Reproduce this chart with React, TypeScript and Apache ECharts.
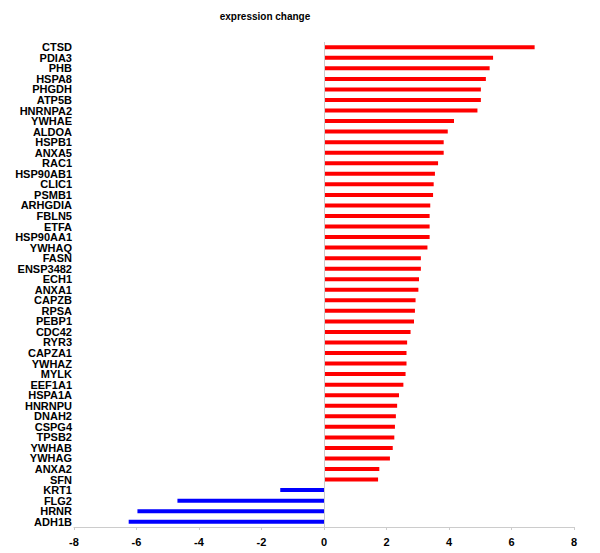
import React, { useEffect, useRef } from "react";
import * as echarts from "echarts";

const genes = [
  "CTSD", "PDIA3", "PHB", "HSPA8", "PHGDH", "ATP5B", "HNRNPA2", "YWHAE", "ALDOA", "HSPB1",
  "ANXA5", "RAC1", "HSP90AB1", "CLIC1", "PSMB1", "ARHGDIA", "FBLN5", "ETFA", "HSP90AA1", "YWHAQ",
  "FASN", "ENSP3482", "ECH1", "ANXA1", "CAPZB", "RPSA", "PEBP1", "CDC42", "RYR3", "CAPZA1",
  "YWHAZ", "MYLK", "EEF1A1", "HSPA1A", "HNRNPU", "DNAH2", "CSPG4", "TPSB2", "YWHAB", "YWHAG",
  "ANXA2", "SFN", "KRT1", "FLG2", "HRNR", "ADH1B",
];

const changes = [
  6.74, 5.41, 5.3, 5.18, 5.02, 5.02, 4.91, 4.16, 3.96, 3.83,
  3.83, 3.65, 3.55, 3.51, 3.49, 3.4, 3.38, 3.38, 3.38, 3.31,
  3.1, 3.1, 3.04, 3.02, 2.93, 2.91, 2.88, 2.77, 2.66, 2.64,
  2.64, 2.61, 2.54, 2.4, 2.34, 2.3, 2.27, 2.25, 2.2, 2.11,
  1.77, 1.73, -1.4, -4.69, -5.97, -6.25,
];

const xTicks = { min: -8, max: 8, interval: 2 };

export default function App() {
  const ref = useRef<HTMLDivElement>(null);
  useEffect(() => {
    if (!ref.current) return;
    const chart = echarts.init(ref.current, null, { renderer: "svg" });
    const font = "'Liberation Sans', Arial, sans-serif";
    chart.setOption({
      animation: false,
      backgroundColor: "#ffffff",
      title: {
        text: "expression change",
        left: 260,
        textAlign: "center",
        top: 6,
        textStyle: { fontFamily: font, fontSize: 10, fontWeight: "bold", color: "#000" },
      },
      grid: { left: 74, right: 26, top: 42, bottom: 26, containLabel: false },
      xAxis: {
        type: "value",
        min: xTicks.min,
        max: xTicks.max,
        interval: xTicks.interval,
        axisLine: { show: true, onZero: false, lineStyle: { color: "#cccccc", width: 1 } },
        axisTick: { show: true, length: 3, lineStyle: { color: "#cccccc" } },
        splitLine: { show: false },
        axisLabel: {
          margin: 9,
          fontFamily: font,
          fontSize: 11,
          fontWeight: "bold",
          color: "#000",
        },
      },
      yAxis: {
        type: "category",
        data: genes,
        inverse: true,
        axisLine: { show: false },
        axisTick: { show: false },
        axisLabel: {
          interval: 0,
          margin: 2,
          fontFamily: font,
          fontSize: 11,
          fontWeight: "bold",
          color: "#000",
        },
      },
      series: [
        {
          type: "bar",
          barWidth: 4,
          data: changes.map((v) => ({
            value: v,
            itemStyle: { color: v >= 0 ? "#ff0000" : "#0000ff" },
          })),
          markLine: {
            silent: true,
            symbol: "none",
            label: { show: false },
            lineStyle: { color: "#cccccc", width: 1, type: "solid" },
            data: [{ xAxis: 0 }],
          },
        },
      ],
    });
    return () => chart.dispose();
  }, []);
  return <div ref={ref} style={{ width: 600, height: 553, position: "absolute", left: 0, top: 0 }} />;
}
